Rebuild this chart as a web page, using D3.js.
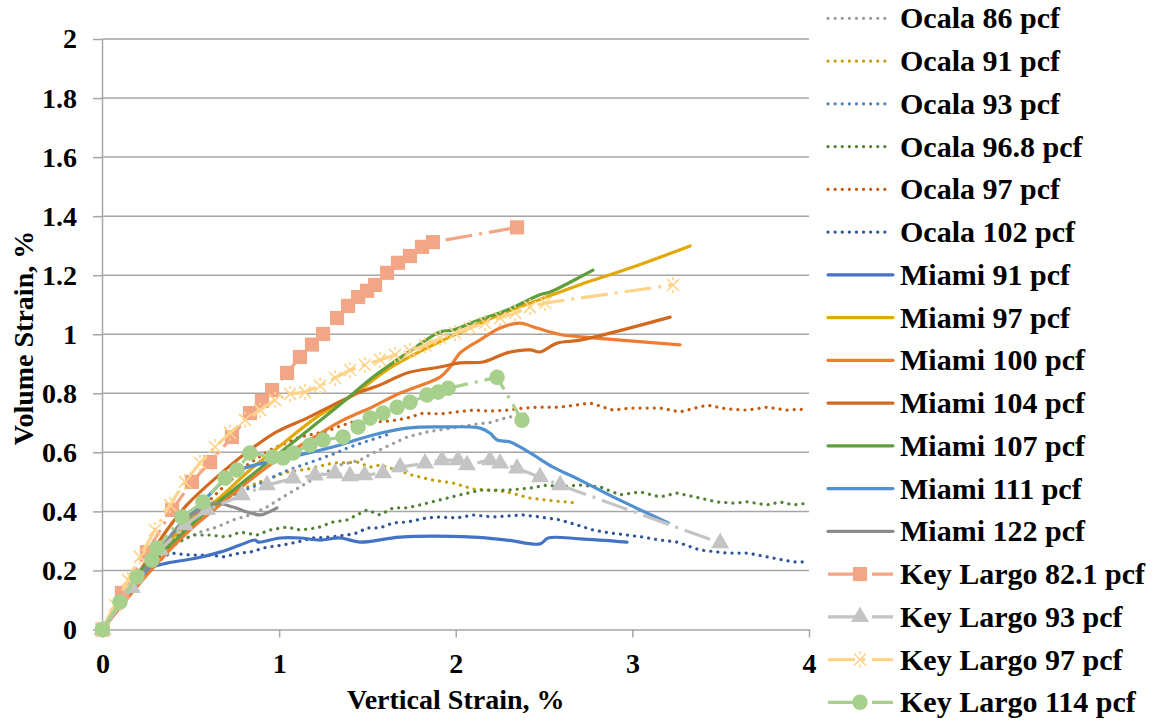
<!DOCTYPE html>
<html>
<head>
<meta charset="utf-8">
<script src="https://cdn.jsdelivr.net/npm/d3@7"></script>
<style>
  body { margin: 0; background: #fff; }
  text { font-family: "Liberation Serif", "Times New Roman", serif; font-weight: bold; fill: #000; }
</style>
</head>
<body>
<script>
// values: [vertical strain %, volume strain %]
const ocala86 = [[0,0],[0.099,0.083],[0.212,0.185],[0.326,0.259],[0.456,0.303],[0.552,0.330],[0.648,0.347],[0.739,0.371],[0.835,0.388],[0.931,0.415],[1.022,0.449],[1.118,0.483],[1.232,0.523],[1.345,0.557],[1.458,0.574],[1.532,0.598],[1.628,0.625],[1.724,0.652],[1.837,0.669],[1.911,0.676],[2.098,0.694],[2.194,0.701],[2.291,0.718],[2.404,0.731]];
const ocala91 = [[0,0],[0.156,0.134],[0.326,0.252],[0.495,0.354],[0.665,0.428],[0.807,0.479],[0.892,0.500],[1.045,0.533],[1.158,0.543],[1.305,0.564],[1.441,0.567],[1.515,0.550],[1.571,0.557],[1.628,0.547],[1.752,0.523],[1.871,0.506],[1.985,0.496],[2.098,0.476],[2.194,0.472],[2.291,0.466],[2.421,0.445],[2.517,0.438],[2.687,0.428]];
const ocala93 = [[0,0],[0.156,0.127],[0.326,0.252],[0.495,0.364],[0.665,0.439],[0.779,0.466],[0.852,0.483],[0.931,0.506],[1.022,0.533],[1.118,0.554],[1.215,0.574],[1.305,0.594],[1.401,0.618],[1.498,0.638],[1.645,0.666]];
const ocala968 = [[0,0],[0.127,0.107],[0.241,0.195],[0.354,0.269],[0.439,0.300],[0.512,0.320],[0.609,0.320],[0.705,0.313],[0.779,0.330],[0.875,0.320],[0.948,0.337],[1.045,0.347],[1.118,0.337],[1.215,0.344],[1.305,0.364],[1.384,0.371],[1.498,0.405],[1.571,0.388],[1.645,0.412],[1.724,0.412],[1.798,0.422],[1.911,0.439],[2.025,0.456],[2.138,0.472],[2.291,0.472],[2.421,0.479],[2.517,0.489],[2.591,0.483],[2.704,0.489],[2.817,0.483],[2.930,0.456],[3.043,0.466],[3.157,0.449],[3.253,0.462],[3.383,0.445],[3.480,0.432],[3.570,0.428],[3.650,0.432],[3.763,0.422],[3.836,0.432],[3.910,0.422],[3.995,0.428]];
const ocala97 = [[0,0],[0.156,0.127],[0.326,0.252],[0.495,0.371],[0.665,0.472],[0.818,0.557],[0.948,0.608],[1.118,0.652],[1.271,0.672],[1.345,0.689],[1.419,0.703],[1.532,0.703],[1.628,0.706],[1.724,0.716],[1.815,0.733],[1.911,0.730],[2.008,0.737],[2.098,0.743],[2.194,0.740],[2.291,0.743],[2.381,0.750],[2.477,0.753],[2.591,0.753],[2.761,0.767],[2.891,0.743],[2.987,0.750],[3.157,0.750],[3.270,0.737],[3.423,0.760],[3.536,0.747],[3.650,0.743],[3.763,0.753],[3.876,0.743],[3.989,0.747]];
const ocala102 = [[0,0],[0.127,0.100],[0.241,0.185],[0.326,0.235],[0.382,0.259],[0.495,0.252],[0.609,0.252],[0.682,0.246],[0.779,0.259],[0.835,0.262],[0.931,0.279],[1.022,0.286],[1.101,0.296],[1.192,0.310],[1.288,0.313],[1.384,0.320],[1.441,0.327],[1.498,0.344],[1.571,0.344],[1.645,0.361],[1.724,0.364],[1.837,0.378],[1.911,0.381],[2.008,0.378],[2.098,0.388],[2.211,0.381],[2.381,0.388],[2.477,0.381],[2.591,0.371],[2.687,0.354],[2.777,0.337],[2.874,0.327],[2.970,0.320],[3.060,0.313],[3.157,0.303],[3.253,0.296],[3.383,0.269],[3.536,0.259],[3.650,0.259],[3.763,0.246],[3.910,0.229],[3.995,0.229]];

const miami91 = [[0,0],[0.099,0.083],[0.184,0.161],[0.269,0.208],[0.365,0.225],[0.535,0.242],[0.665,0.262],[0.779,0.286],[0.864,0.303],[0.881,0.296],[1.005,0.310],[1.118,0.310],[1.232,0.303],[1.345,0.310],[1.458,0.296],[1.685,0.313],[2.098,0.313],[2.291,0.303],[2.477,0.290],[2.523,0.310],[2.704,0.307],[2.970,0.296]];
const miami97 = [[0,0],[0.127,0.107],[0.269,0.218],[0.411,0.320],[0.552,0.398],[0.648,0.439],[0.835,0.540],[1.022,0.630],[1.215,0.720],[1.401,0.787],[1.628,0.886],[1.815,0.947],[1.996,0.999],[2.251,1.067],[2.477,1.118],[2.704,1.168],[2.987,1.224],[3.327,1.299]];
const miami100 = [[0,0],[0.156,0.117],[0.326,0.235],[0.495,0.337],[0.665,0.422],[0.835,0.506],[1.005,0.581],[1.175,0.642],[1.345,0.704],[1.532,0.755],[1.685,0.801],[1.911,0.855],[1.968,0.889],[2.025,0.937],[2.138,0.981],[2.251,1.021],[2.364,1.038],[2.438,1.025],[2.591,0.999],[2.777,0.988],[3.270,0.964]];
const miami104 = [[0,0],[0.127,0.117],[0.241,0.225],[0.365,0.337],[0.478,0.422],[0.648,0.517],[0.835,0.608],[0.988,0.670],[1.158,0.716],[1.305,0.760],[1.458,0.804],[1.571,0.828],[1.724,0.869],[1.911,0.889],[2.025,0.903],[2.155,0.906],[2.291,0.937],[2.421,0.947],[2.477,0.940],[2.574,0.970],[2.704,0.980],[3.214,1.058]];
const miami107 = [[0,0],[0.173,0.174],[0.365,0.277],[0.552,0.381],[0.739,0.472],[0.931,0.564],[1.118,0.653],[1.345,0.762],[1.532,0.855],[1.724,0.936],[1.911,1.008],[1.985,1.014],[2.098,1.041],[2.291,1.082],[2.477,1.134],[2.534,1.143],[2.704,1.194],[2.777,1.217]];
const miami111 = [[0,0],[0.127,0.107],[0.269,0.218],[0.411,0.337],[0.552,0.422],[0.739,0.530],[0.931,0.567],[1.118,0.591],[1.345,0.625],[1.532,0.659],[1.724,0.682],[1.911,0.686],[2.138,0.682],[2.194,0.665],[2.234,0.642],[2.308,0.635],[2.421,0.598],[2.551,0.550],[2.704,0.506],[2.891,0.449],[3.203,0.361]];
const miami122 = [[0,0],[0.156,0.134],[0.326,0.269],[0.467,0.371],[0.552,0.405],[0.626,0.428],[0.739,0.415],[0.818,0.398],[0.892,0.388],[0.931,0.395],[0.988,0.412]];

const keyLargo821 = [[0,0],[0.110,0.124],[0.252,0.262],[0.394,0.405],[0.507,0.500],[0.609,0.567],[0.733,0.652],[0.835,0.733],[0.903,0.774],[0.960,0.811],[1.045,0.869],[1.118,0.923],[1.186,0.965],[1.249,1.001],[1.328,1.055],[1.390,1.096],[1.447,1.126],[1.498,1.147],[1.543,1.167],[1.611,1.208],[1.673,1.242],[1.741,1.265],[1.809,1.296],[1.871,1.312],[2.347,1.362]];
const keyLargo93 = [[0,0],[0.167,0.141],[0.326,0.269],[0.467,0.354],[0.592,0.405],[0.790,0.455],[0.931,0.489],[1.079,0.512],[1.203,0.522],[1.316,0.529],[1.401,0.520],[1.484,0.523],[1.588,0.530],[1.685,0.550],[1.826,0.563],[1.922,0.574],[2.013,0.574],[2.064,0.557],[2.194,0.574],[2.251,0.563],[2.347,0.546],[2.477,0.516],[2.591,0.489],[3.497,0.293]];
const keyLargo97 = [[0,0],[0.071,0.083],[0.144,0.168],[0.212,0.246],[0.297,0.337],[0.382,0.422],[0.467,0.500],[0.552,0.564],[0.637,0.618],[0.722,0.666],[0.807,0.710],[0.892,0.743],[0.977,0.777],[1.062,0.798],[1.147,0.804],[1.232,0.825],[1.317,0.852],[1.402,0.879],[1.486,0.896],[1.571,0.913],[1.656,0.930],[1.741,0.943],[1.826,0.963],[1.911,0.987],[1.996,1.004],[2.081,1.021],[2.166,1.038],[2.251,1.055],[2.336,1.072],[2.421,1.092],[2.506,1.106],[3.230,1.167]];
const keyLargo114 = [[0,0],[0.099,0.093],[0.195,0.178],[0.280,0.235],[0.309,0.276],[0.450,0.381],[0.569,0.432],[0.694,0.513],[0.762,0.540],[0.835,0.598],[0.960,0.584],[1.022,0.581],[1.079,0.598],[1.175,0.625],[1.249,0.642],[1.362,0.652],[1.447,0.686],[1.515,0.716],[1.588,0.733],[1.668,0.753],[1.741,0.770],[1.837,0.794],[1.900,0.804],[1.957,0.817],[2.234,0.854],[2.375,0.709]];

const seriesNames = ["Ocala 86 pcf", "Ocala 91 pcf", "Ocala 93 pcf", "Ocala 96.8 pcf", "Ocala 97 pcf", "Ocala 102 pcf",
  "Miami 91 pcf", "Miami 97 pcf", "Miami 100 pcf", "Miami 104 pcf", "Miami 107 pcf", "Miami 111 pcf", "Miami 122 pcf",
  "Key Largo 82.1 pcf", "Key Largo 93 pcf", "Key Largo 97 pcf", "Key Largo 114 pcf"];
const seriesData = [ocala86, ocala91, ocala93, ocala968, ocala97, ocala102,
  miami91, miami97, miami100, miami104, miami107, miami111, miami122,
  keyLargo821, keyLargo93, keyLargo97, keyLargo114];

const xTicks = [0, 1, 2, 3, 4];
const yTicks = [0, 0.2, 0.4, 0.6, 0.8, 1, 1.2, 1.4, 1.6, 1.8, 2];

// styles
const colors = ["#9C9C9C", "#C59D0C", "#4F81BD", "#548235", "#C55A11", "#2F5597",
  "#4472C4", "#E2A806", "#ED7D31", "#D2691E", "#5E9E3C", "#5090D0", "#8C8C8C",
  "#F3A686", "#C4C4C4", "#FFD38A", "#A7D08C"];
const kinds = ["dot", "dot", "dot", "dot", "dot", "dot",
  "solid", "solid", "solid", "solid", "solid", "solid", "solid",
  "square", "triangle", "star", "circle"];

const series = seriesNames.map((name, i) => ({ name, data: seriesData[i], color: colors[i], kind: kinds[i] }));

const width = 1161;
const height = 721;
const gridColor = "#A6A6A6";

const svg = d3.select("body").append("svg")
  .attr("width", width)
  .attr("height", height);

const x = d3.scaleLinear().domain([0, 4]).range([102.5, 809]);
const y = d3.scaleLinear().domain([0, 2]).range([629.5, 39]);

// horizontal grid
svg.append("g")
  .selectAll("line")
  .data(yTicks.slice(1))
  .join("line")
  .attr("x1", x(0)).attr("x2", x(4))
  .attr("y1", d => y(d)).attr("y2", d => y(d))
  .attr("stroke", gridColor)
  .attr("stroke-width", 1.5);

const yAxis = svg.append("g")
  .attr("transform", `translate(${x(0)},0)`)
  .call(d3.axisLeft(y).tickValues(yTicks).tickFormat(d3.format("")).tickSize(9.5).tickSizeOuter(0).tickPadding(16));

const xAxis = svg.append("g")
  .attr("transform", `translate(0,${y(0)})`)
  .call(d3.axisBottom(x).tickValues(xTicks).tickFormat(d3.format("d")).tickSize(8).tickSizeOuter(0).tickPadding(15.5));

[yAxis, xAxis].forEach(a => {
  a.selectAll("path, line").attr("stroke", gridColor).attr("stroke-width", 1.5);
  a.selectAll("text").attr("font-size", 28).attr("font-family", null);
});
yAxis.select(".domain").attr("d", `M0,${y(2)}V${y(0) + 8}`);

// axis titles
svg.append("text")
  .attr("x", (x(0) + x(4)) / 2)
  .attr("y", 709)
  .attr("text-anchor", "middle")
  .attr("font-size", 28)
  .text("Vertical Strain, %");

svg.append("text")
  .attr("transform", "translate(33,338) rotate(-90)")
  .attr("text-anchor", "middle")
  .attr("font-size", 28)
  .text("Volume Strain, %");

const line = d3.line().x(d => x(d[0])).y(d => y(d[1]));
const smooth = d3.line().x(d => x(d[0])).y(d => y(d[1])).curve(d3.curveCatmullRom.alpha(0.5));

function strokeStyle(sel, s) {
  sel.attr("fill", "none").attr("stroke", s.color);
  if (s.kind === "dot") {
    sel.attr("stroke-width", 3.2).attr("stroke-linecap", "round").attr("stroke-dasharray", "0.1 7");
  } else if (s.kind === "solid") {
    sel.attr("stroke-width", 3.2).attr("stroke-linejoin", "round").attr("stroke-linecap", "round");
  } else {
    sel.attr("stroke-width", 3.2).attr("stroke-dasharray", "27 7 3 7");
  }
}

const symbolType = { square: d3.symbolSquare, triangle: d3.symbolTriangle, circle: d3.symbolCircle };
const symbolSize = { square: 200, triangle: 140, circle: 190 };

function drawMarker(g, s) {
  if (s.kind === "star") {
    g.append("path")
      .attr("d", "M-6,-6L6,6M-6,6L6,-6M0,-8L0,-5M0,5L0,8")
      .attr("fill", "none")
      .attr("stroke", s.color)
      .attr("stroke-width", 1.6);
  } else {
    g.append("path")
      .attr("d", d3.symbol(symbolType[s.kind], symbolSize[s.kind])())
      .attr("fill", s.color);
  }
}

const plot = svg.append("g");
series.forEach(s => {
  plot.append("path")
    .attr("d", s.kind === "solid" ? smooth(s.data) : line(s.data))
    .call(strokeStyle, s);
  if (s.kind !== "dot" && s.kind !== "solid") {
    plot.append("g")
      .selectAll("g")
      .data(s.data)
      .join("g")
      .attr("transform", d => `translate(${x(d[0])},${y(d[1])})`)
      .each(function () { drawMarker(d3.select(this), s); });
  }
});

// legend
const legend = svg.append("g");
series.forEach((s, i) => {
  const ly = 18.3 + i * 42.75;
  const row = legend.append("g").attr("transform", `translate(0,${ly})`);
  row.append("line")
    .attr("x1", 828).attr("x2", s.kind === "dot" ? 888 : 893)
    .attr("y1", 0).attr("y2", 0)
    .call(strokeStyle, s);
  if (s.kind !== "dot" && s.kind !== "solid") {
    drawMarker(row.append("g").attr("transform", "translate(860,0)"), s);
  }
  row.append("text")
    .attr("x", 900)
    .attr("y", 10)
    .attr("font-size", 30)
    .text(s.name);
});
</script>
</body>
</html>
